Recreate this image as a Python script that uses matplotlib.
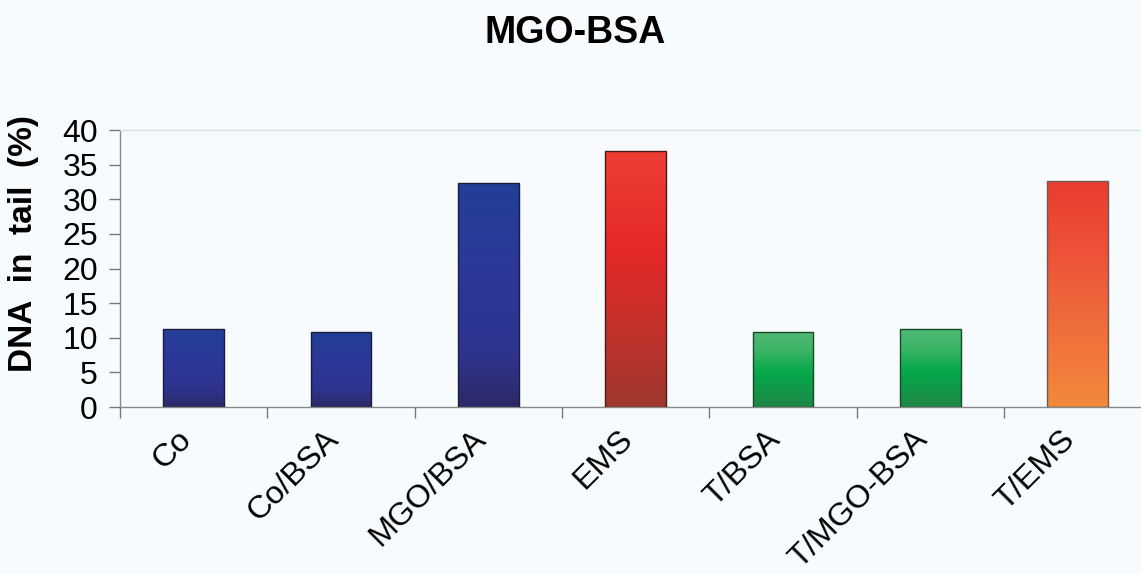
import numpy as np
import matplotlib
matplotlib.use("Agg")
import matplotlib.pyplot as plt
import matplotlib.transforms as mtransforms
from matplotlib.colors import LinearSegmentedColormap
from matplotlib.ticker import FixedLocator, NullFormatter

# Data
categories = ["Co", "Co/BSA", "MGO/BSA", "EMS", "T/BSA", "T/MGO-BSA", "T/EMS"]
dna_in_tail = [11.3, 10.9, 32.4, 37.0, 10.9, 11.3, 32.7]

# Vertical gradient stops (bottom -> top) for each bar family
blue_stops = [(0.0, "#2b2a66"), (0.25, "#2e3490"), (0.6, "#2d3898"), (1.0, "#223f96")]
red_stops = [(0.0, "#9e382e"), (0.35, "#c9302b"), (0.6, "#e42829"), (1.0, "#ee3e34")]
green_stops = [(0.0, "#1f8646"), (0.45, "#05a84a"), (0.75, "#3cb465"), (1.0, "#52b974")]
orange_stops = [(0.0, "#f2893a"), (0.4, "#ef6a3c"), (0.75, "#ec4d36"), (1.0, "#ea3c2e")]
bar_styles = [blue_stops, blue_stops, blue_stops, red_stops,
              green_stops, green_stops, orange_stops]
edge_colors = ["#1c1c40", "#1c1c40", "#1c1c40", "#4a1a16",
               "#144a28", "#144a28", "#6a5a55"]

bg = "#f7fbfe"
font = "Liberation Sans"
fig = plt.figure(figsize=(11.41, 5.74), dpi=100, facecolor=bg)
ax = fig.add_axes([0.1052, 0.2909, 0.8948, 0.4826], facecolor=bg)

x = np.arange(len(categories))
bars = ax.bar(x, dna_in_tail, width=0.41, facecolor="none",
              edgecolor=edge_colors, linewidth=1.0, zorder=3)

# Fill each bar with its vertical gradient
for bar, stops in zip(bars, bar_styles):
    cmap = LinearSegmentedColormap.from_list("grad", stops)
    bx, bw, bh = bar.get_x(), bar.get_width(), bar.get_height()
    grad = np.linspace(0, 1, 256).reshape(-1, 1)
    im = ax.imshow(grad, cmap=cmap, origin="lower", aspect="auto",
                   extent=[bx, bx + bw, 0, bh], zorder=2,
                   interpolation="bicubic")
    im.set_clip_path(bar)

ax.set_xlim(-0.5, 6.43)
ax.set_ylim(0, 40)
ax.set_yticks(np.arange(0, 41, 5))

# Category ticks sit between bars; the slanted names are placed below each bar
ax.xaxis.set_major_locator(FixedLocator(np.arange(-0.5, 7, 1.0)))
ax.xaxis.set_major_formatter(NullFormatter())
ax.tick_params(axis="x", length=8, width=1, color="#777777", direction="out")
offset = mtransforms.ScaledTranslation(-7 / 100, -28 / 100, fig.dpi_scale_trans)
label_tf = ax.get_xaxis_transform() + offset
for xi, name in zip(x, categories):
    ax.text(xi, 0, name, transform=label_tf, rotation=45, ha="right",
            va="center", rotation_mode="anchor", fontsize=23.3, family=font,
            clip_on=False)

ax.tick_params(axis="y", length=8, width=1, color="#777777", pad=8,
               labelsize=23)
for lbl in ax.get_yticklabels():
    lbl.set_family(font)

for side in ("left", "bottom"):
    ax.spines[side].set_color("#888888")
    ax.spines[side].set_linewidth(1.0)
ax.spines["top"].set_color("#d8dde0")
ax.spines["top"].set_linewidth(1.0)
ax.spines["right"].set_visible(False)

ax.set_ylabel("DNA  in  tail  (%)", fontsize=24, fontweight="bold",
              family=font)
ax.yaxis.set_label_coords(-0.079, 0.59)
fig.text(0.504, 0.943, "MGO-BSA", ha="center", va="center", fontsize=27,
         fontweight="bold", family=font)

fig.savefig("out.png", dpi=100, facecolor=bg)
